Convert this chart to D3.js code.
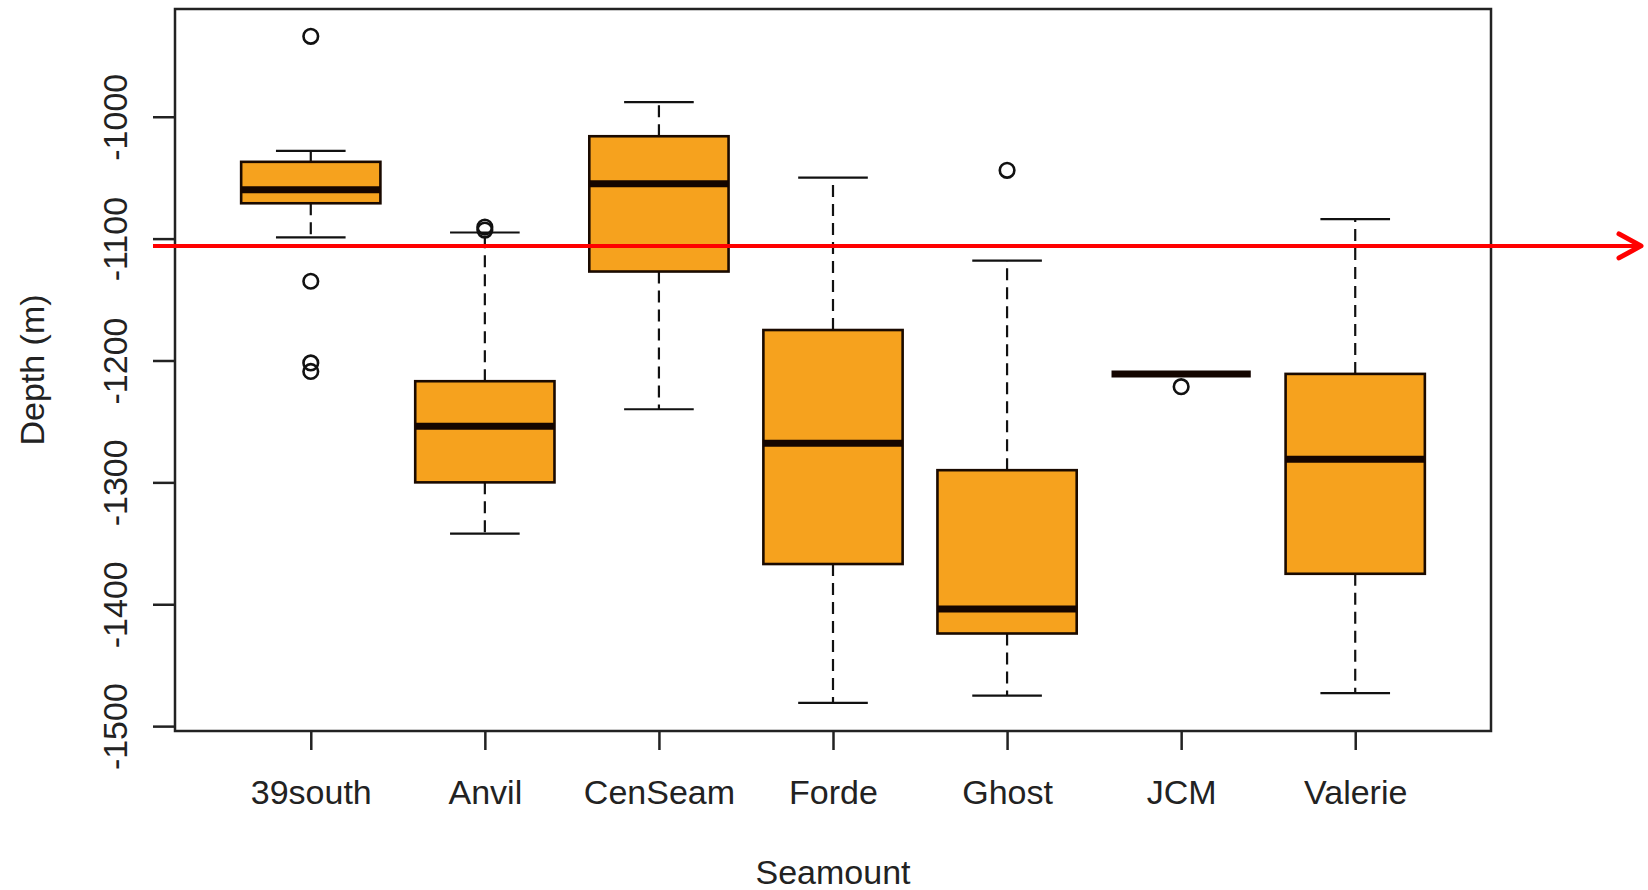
<!DOCTYPE html>
<html>
<head>
<meta charset="utf-8">
<script src="https://cdn.jsdelivr.net/npm/d3@7"></script>
<style>
  body { margin: 0; background: #fff; }
  text { font-family: "Liberation Sans", Arial, sans-serif; fill: #222; }
</style>
</head>
<body>
<div id="chart"></div>
<script>
// depth summaries per seamount (m)
const seamounts = ["39south", "Anvil", "CenSeam", "Forde", "Ghost", "JCM", "Valerie"];
const lowerWhisker = [-1099, -1342, -1240, -1481, -1475, -1211, -1473];
const q1 = [-1071, -1300, -1127, -1367, -1424, -1211, -1375];
const median = [-1060, -1254, -1055, -1268, -1404, -1211, -1281];
const q3 = [-1037, -1217, -1016, -1175, -1290, -1211, -1211];
const upperWhisker = [-1028, -1095, -988, -1050, -1118, -1211, -1084];
const outliers = [
    [-934, -1135, -1202, -1209],
    [-1090.5, -1093],
    [],
    [],
    [-1044],
    [-1221.5],
    []
];
const yTicks = [-1000, -1100, -1200, -1300, -1400, -1500];
const yDomain = [-1504, -911.6];
const markerDepth = -1106; // red reference arrow

function drawChart() {
    const width = 1648;
    const height = 890;
    const plot = { left: 175, right: 1491, top: 9, bottom: 731 };

    const svg = d3.select("#chart")
        .append("svg")
        .attr("width", width)
        .attr("height", height);

    // base R boxplot: positions 1..n, xlim 0.5..n+0.5 plus 4% each side
    const x = d3.scalePoint()
        .domain(seamounts)
        .range([plot.left, plot.right])
        .padding(0.78);

    const y = d3.scaleLinear()
        .domain(yDomain)
        .range([plot.bottom, plot.top]);

    const step = x.step();
    const boxW = step * 0.8;
    const stapleW = boxW * 0.5;

    const boxes = seamounts.map((s, i) => ({
        name: s,
        lo: lowerWhisker[i], q1: q1[i], med: median[i], q3: q3[i], hi: upperWhisker[i],
        out: outliers[i]
    }));

    const g = svg.append("g");

    // whiskers (dashed)
    g.selectAll(".whisker")
        .data(boxes.flatMap(d => [[d, d.q3, d.hi], [d, d.q1, d.lo]]))
        .join("line")
        .attr("x1", d => x(d[0].name))
        .attr("x2", d => x(d[0].name))
        .attr("y1", d => y(d[1]))
        .attr("y2", d => y(d[2]))
        .attr("stroke", "#111")
        .attr("stroke-width", 2.2)
        .attr("stroke-dasharray", "12,7");

    // staples
    g.selectAll(".staple")
        .data(boxes.flatMap(d => [[d, d.hi], [d, d.lo]]))
        .join("line")
        .attr("x1", d => x(d[0].name) - stapleW / 2)
        .attr("x2", d => x(d[0].name) + stapleW / 2)
        .attr("y1", d => y(d[1]))
        .attr("y2", d => y(d[1]))
        .attr("stroke", "#111")
        .attr("stroke-width", 2.2);

    // boxes
    g.selectAll(".box")
        .data(boxes)
        .join("rect")
        .attr("x", d => x(d.name) - boxW / 2)
        .attr("y", d => y(d.q3))
        .attr("width", boxW)
        .attr("height", d => y(d.q1) - y(d.q3))
        .attr("fill", "#f6a21e")
        .attr("stroke", "#1a0a00")
        .attr("stroke-width", 2.6);

    // medians
    g.selectAll(".median")
        .data(boxes)
        .join("line")
        .attr("x1", d => x(d.name) - boxW / 2)
        .attr("x2", d => x(d.name) + boxW / 2)
        .attr("y1", d => y(d.med))
        .attr("y2", d => y(d.med))
        .attr("stroke", "#140500")
        .attr("stroke-width", 7);

    // outliers
    g.selectAll(".outlier")
        .data(boxes.flatMap(d => d.out.map(v => [d.name, v])))
        .join("circle")
        .attr("cx", d => x(d[0]))
        .attr("cy", d => y(d[1]))
        .attr("r", 7.3)
        .attr("fill", "none")
        .attr("stroke", "#111")
        .attr("stroke-width", 2.6);

    // plot frame
    svg.append("rect")
        .attr("x", plot.left)
        .attr("y", plot.top)
        .attr("width", plot.right - plot.left)
        .attr("height", plot.bottom - plot.top)
        .attr("fill", "none")
        .attr("stroke", "#222")
        .attr("stroke-width", 2.5);

    // y axis, labels parallel to the axis like base R
    const yAxis = svg.append("g")
        .attr("transform", `translate(${plot.left},0)`)
        .call(d3.axisLeft(y).tickValues(yTicks).tickSize(22).tickFormat(d => String(d)));
    yAxis.select(".domain").remove();
    yAxis.selectAll(".tick line").attr("stroke", "#222").attr("stroke-width", 2.5);
    yAxis.selectAll(".tick text")
        .attr("x", null)
        .attr("dy", null)
        .attr("text-anchor", "middle")
        .attr("transform", "translate(-48,0) rotate(-90)")
        .style("font-size", "34px")
        .style("font-family", "'Liberation Sans', Arial, sans-serif")
        .attr("fill", "#222");

    // x axis
    const xAxis = svg.append("g")
        .attr("transform", `translate(0,${plot.bottom})`)
        .call(d3.axisBottom(x).tickSize(19));
    xAxis.select(".domain").remove();
    xAxis.selectAll(".tick line").attr("stroke", "#222").attr("stroke-width", 2.5);
    xAxis.selectAll(".tick text")
        .attr("y", 73)
        .attr("dy", null)
        .style("font-size", "34px")
        .style("font-family", "'Liberation Sans', Arial, sans-serif")
        .attr("fill", "#222");

    // axis titles
    svg.append("text")
        .attr("x", (plot.left + plot.right) / 2)
        .attr("y", 884)
        .attr("text-anchor", "middle")
        .style("font-size", "34px")
        .text("Seamount");

    svg.append("text")
        .attr("transform", `translate(44,${(plot.top + plot.bottom) / 2}) rotate(-90)`)
        .attr("text-anchor", "middle")
        .style("font-size", "34px")
        .text("Depth (m)");

    // red reference arrow
    const ay = y(markerDepth);
    svg.append("line")
        .attr("x1", 153)
        .attr("x2", 1639)
        .attr("y1", ay)
        .attr("y2", ay)
        .attr("stroke", "#ff0000")
        .attr("stroke-width", 4);
    svg.append("path")
        .attr("d", `M1619,${ay - 12}L1641,${ay}L1619,${ay + 12}`)
        .attr("fill", "none")
        .attr("stroke", "#ff0000")
        .attr("stroke-width", 5)
        .attr("stroke-linecap", "round")
        .attr("stroke-linejoin", "round");
}

window.onload = drawChart;
</script>
</body>
</html>
